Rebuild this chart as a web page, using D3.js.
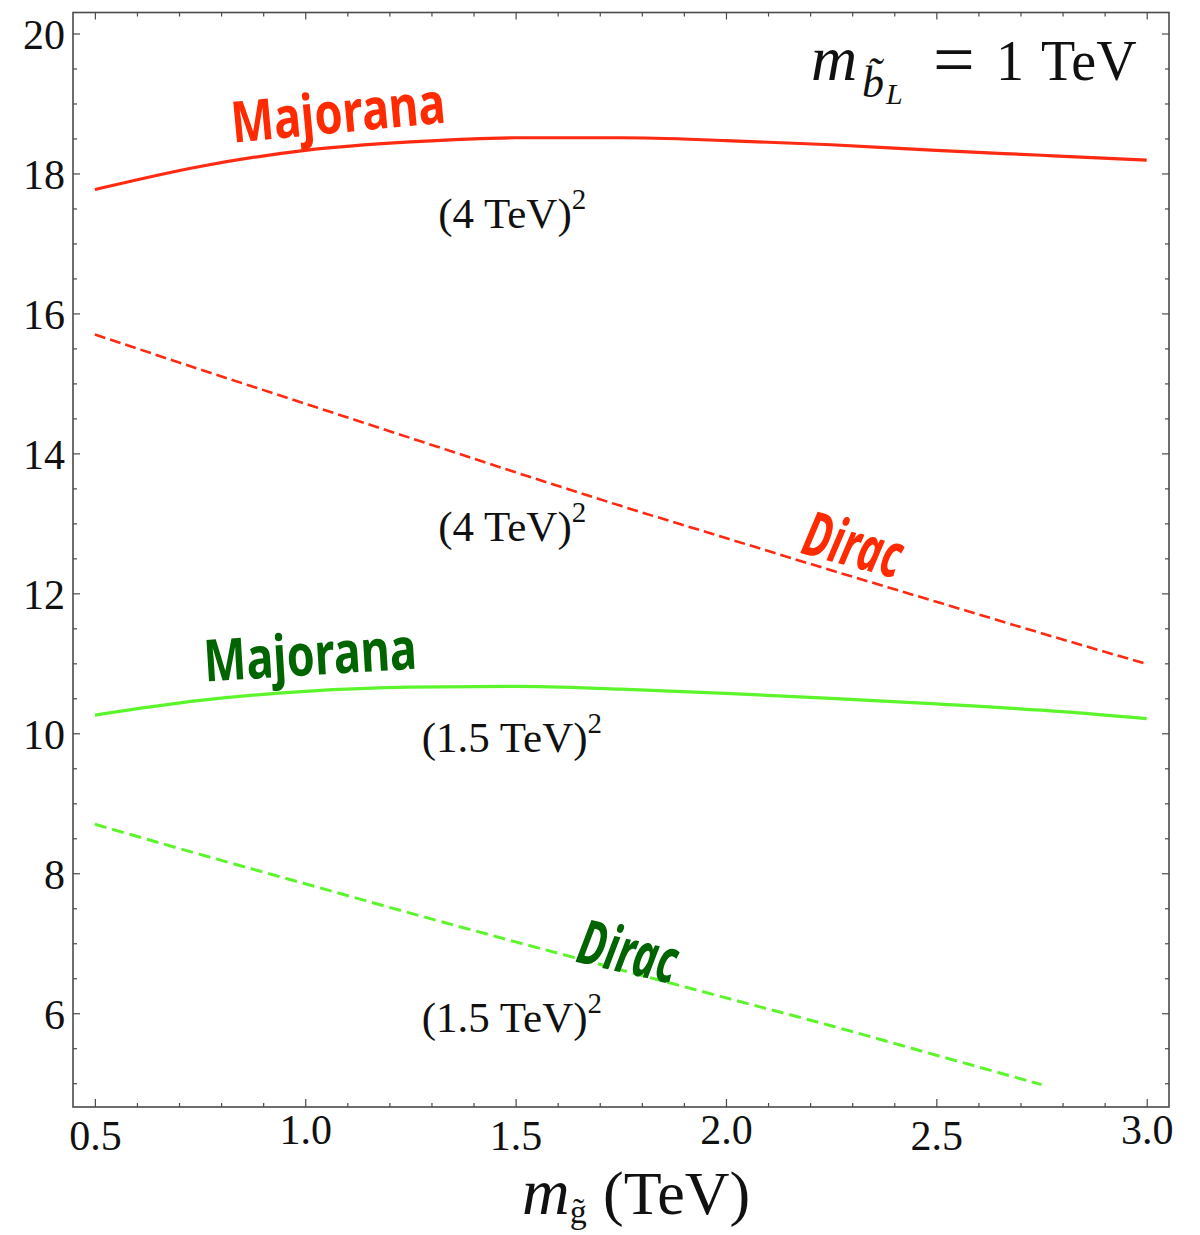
<!DOCTYPE html>
<html lang="en">
<head>
<meta charset="UTF-8">
<title>Majorana vs Dirac</title>
<script src="https://d3js.org/d3.v7.min.js"></script>
<style>
  body { margin: 0; background: #fff; }
  svg { display: block; }
  .tick text { font-family: "Liberation Serif", "Times New Roman", serif; fill: #111; }
  .hand { font-family: "Noto Sans", "Open Sans", sans-serif; font-weight: 700; }
  .serif { font-family: "Liberation Serif", "Times New Roman", serif; fill: #111; }
</style>
</head>
<body>
<svg id="chart"></svg>
<script>
// data
const xTicks = [0.5, 1.0, 1.5, 2.0, 2.5, 3.0];
const yTicks = [6, 8, 10, 12, 14, 16, 18, 20];

const gluinoMass = [0.5, 0.75, 1.0, 1.25, 1.5, 1.75, 2.0, 2.25, 2.5, 2.75, 3.0];
const majorana4 = [17.77, 18.10, 18.33, 18.45, 18.51, 18.51, 18.47, 18.41, 18.33, 18.26, 18.19];
const dirac4    = [15.70, 15.20, 14.71, 14.22, 13.73, 13.25, 12.79, 12.33, 11.88, 11.43, 10.99];
const majorana15 = [10.26, 10.47, 10.60, 10.66, 10.67, 10.63, 10.57, 10.50, 10.42, 10.33, 10.21];
const gluinoMassD15 = [0.5, 0.75, 1.0, 1.25, 1.5, 1.75, 2.0, 2.25, 2.5, 2.75];
const dirac15   = [8.70, 8.27, 7.85, 7.43, 7.02, 6.62, 6.22, 5.82, 5.40, 4.98];

const width = 1200, height = 1235;
const frame = { left: 73, right: 1169, top: 12.5, bottom: 1107 };

const svg = d3.select("#chart").attr("width", width).attr("height", height);

const x = d3.scaleLinear().domain([0.448, 3.053]).range([frame.left, frame.right]);
const y = d3.scaleLinear().domain([4.66, 20.3]).range([frame.bottom, frame.top]);

const xMinor = d3.range(0.5, 3.0001, 0.1).filter(v => Math.abs(v * 2 - Math.round(v * 2)) > 1e-6);
const yMinor = d3.range(5, 20.0001, 0.5).filter(v => v % 2 !== 0);

const frameColor = "#4a4a4a";

// frame ticks (pointing inward, Mathematica style)
function styleAxis(g) {
  g.select(".domain").remove();
  g.selectAll(".tick line").attr("stroke", frameColor).attr("stroke-width", 1.2);
}

const bottom = svg.append("g").attr("transform", `translate(0,${frame.bottom})`);
bottom.call(d3.axisBottom(x).tickValues(xTicks).tickSizeInner(-8).tickSizeOuter(0)
  .tickPadding(8).tickFormat(d3.format(".1f")))
  .call(styleAxis);
bottom.selectAll(".tick text")
  .attr("font-size", 42)
  .attr("dy", (d, i) => i % 2 === 0 ? "0.83em" : "0.69em");
svg.append("g").attr("transform", `translate(0,${frame.bottom})`)
  .call(d3.axisBottom(x).tickValues(xMinor).tickSizeInner(-4).tickSizeOuter(0).tickFormat(""))
  .call(styleAxis);

svg.append("g").attr("transform", `translate(0,${frame.top})`)
  .call(d3.axisTop(x).tickValues(xTicks).tickSizeInner(-7).tickSizeOuter(0).tickFormat(""))
  .call(styleAxis);
svg.append("g").attr("transform", `translate(0,${frame.top})`)
  .call(d3.axisTop(x).tickValues(xMinor).tickSizeInner(-4).tickSizeOuter(0).tickFormat(""))
  .call(styleAxis);

const left = svg.append("g").attr("transform", `translate(${frame.left},0)`);
left.call(d3.axisLeft(y).tickValues(yTicks).tickSizeInner(-7).tickSizeOuter(0).tickPadding(8))
  .call(styleAxis);
left.selectAll(".tick text").attr("font-size", 42).attr("dy", "0.36em");
svg.append("g").attr("transform", `translate(${frame.left},0)`)
  .call(d3.axisLeft(y).tickValues(yMinor).tickSizeInner(-4).tickSizeOuter(0).tickFormat(""))
  .call(styleAxis);

svg.append("g").attr("transform", `translate(${frame.right},0)`)
  .call(d3.axisRight(y).tickValues(yTicks).tickSizeInner(-7).tickSizeOuter(0).tickFormat(""))
  .call(styleAxis);
svg.append("g").attr("transform", `translate(${frame.right},0)`)
  .call(d3.axisRight(y).tickValues(yMinor).tickSizeInner(-4).tickSizeOuter(0).tickFormat(""))
  .call(styleAxis);

svg.append("rect")
  .attr("x", frame.left).attr("y", frame.top)
  .attr("width", frame.right - frame.left).attr("height", frame.bottom - frame.top)
  .attr("fill", "none").attr("stroke", frameColor).attr("stroke-width", 1.6);

// curves
const line = d3.line().x(d => x(d[0])).y(d => y(d[1])).curve(d3.curveMonotoneX);
const series = [
  { xs: gluinoMass, ys: majorana4, color: "#ff2a12", dash: null, w: 3.2 },
  { xs: gluinoMass, ys: dirac4, color: "#ff2a12", dash: "11,5", w: 2.6 },
  { xs: gluinoMass, ys: majorana15, color: "#5cf52c", dash: null, w: 3.2 },
  { xs: gluinoMassD15, ys: dirac15, color: "#5cf52c", dash: "12,6", w: 3 }
];
series.forEach(s => {
  svg.append("path")
    .datum(s.xs.map((v, i) => [v, s.ys[i]]))
    .attr("d", line)
    .attr("fill", "none")
    .attr("stroke", s.color)
    .attr("stroke-width", s.w)
    .attr("stroke-dasharray", s.dash);
});

// hand-written style labels
const handLabels = [
  { text: "Majorana", at: [0.828, 18.44], rot: -5.4, len: 215, size: 57, color: "#ff2a00", italic: false },
  { text: "Dirac", at: [2.174, 12.58], rot: 15, len: 100, size: 62, color: "#ff2a00", italic: true },
  { text: "Majorana", at: [0.762, 10.74], rot: -3.5, len: 213, size: 58, color: "#006400", italic: false },
  { text: "Dirac", at: [1.640, 6.74], rot: 13, len: 100, size: 62, color: "#006400", italic: true }
];
handLabels.forEach(l => {
  svg.append("text")
    .attr("class", "hand")
    .attr("transform", `translate(${x(l.at[0])},${y(l.at[1])}) rotate(${l.rot})`)
    .attr("font-size", l.size)
    .attr("font-style", l.italic ? "italic" : "normal")
    .attr("fill", l.color)
    .attr("textLength", l.len)
    .attr("lengthAdjust", "spacingAndGlyphs")
    .text(l.text);
});

// scale labels
const scaleLabels = [
  { text: "(4 TeV)", at: [1.316, 17.22] },
  { text: "(4 TeV)", at: [1.316, 12.75] },
  { text: "(1.5 TeV)", at: [1.277, 9.73] },
  { text: "(1.5 TeV)", at: [1.277, 5.73] }
];
scaleLabels.forEach(l => {
  const t = svg.append("text").attr("class", "serif")
    .attr("x", x(l.at[0])).attr("y", y(l.at[1]))
    .attr("font-size", 43);
  t.append("tspan").text(l.text);
  t.append("tspan").attr("dy", -19).attr("font-size", 29).text("2");
});

// x axis title
const xt = svg.append("text").attr("class", "serif").attr("x", 522).attr("y", 1214);
xt.append("tspan").attr("font-style", "italic").attr("font-size", 66).text("m");
xt.append("tspan").attr("font-size", 34).attr("dy", 9).text("g\u0303");
xt.append("tspan").attr("font-size", 62).attr("dy", -9).attr("x", 603).text("(TeV)");

// top right label
const tr = svg.append("g").attr("class", "serif");
tr.append("text").attr("x", 811).attr("y", 80).attr("font-size", 64)
  .attr("font-style", "italic").attr("fill", "#111").text("m");
tr.append("text").attr("x", 862).attr("y", 97).attr("font-size", 44)
  .attr("font-style", "italic").attr("fill", "#111").text("b\u0303");
tr.append("text").attr("x", 886).attr("y", 104).attr("font-size", 30)
  .attr("font-style", "italic").attr("fill", "#111").text("L");
tr.append("text").attr("x", 933).attr("y", 84).attr("font-size", 74)
  .attr("fill", "#111").text("=");
tr.append("text").attr("x", 996).attr("y", 80).attr("font-size", 56)
  .attr("fill", "#111").text("1");
tr.append("text").attr("x", 1041).attr("y", 80).attr("font-size", 56)
  .attr("fill", "#111").text("TeV");
</script>
</body>
</html>
